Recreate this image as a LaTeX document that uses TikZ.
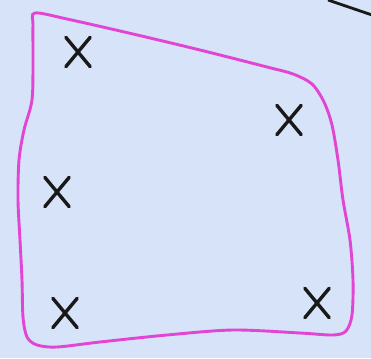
\documentclass[tikz,border=0pt]{standalone}
\usepackage{tikz}
\usetikzlibrary{shapes.misc}
\definecolor{PaperBlue}{RGB}{214,227,248}
\definecolor{PenMagenta}{RGB}{226,68,212}
\definecolor{PenBlack}{RGB}{25,25,25}

\begin{document}
\begin{tikzpicture}[x=1pt,y=-1pt,xmark/.style={cross out,draw=PenBlack,line width=3.4pt,line cap=round,minimum width=21pt,minimum height=26pt,inner sep=0pt}]
\fill[PaperBlue] (0,0) rectangle (371,358);
\useasboundingbox (0,0) rectangle (371,358);
% region boundary
\draw[PenMagenta,line width=2.9pt] plot[smooth cycle,tension=0.5] coordinates {(35,13) (67,19) (133,34) (200,50) (267,67) (293,74) (312,84) (324,102) (332,125) (338,160) (343,200) (350,240) (353,280) (352,315) (346,331) (333,335) (300,333) (233,330) (167,335) (100,342) (57,347) (37,345) (27,337) (23,317) (22,280) (20,240) (18,200) (19,160) (24,130) (32,100) (33,60) (33,25)};
% points
\node[xmark] (p1) at (78,52) {};
\node[xmark] (p2) at (289,120) {};
\node[xmark] (p3) at (57,192) {};
\node[xmark] (p4) at (65,313) {};
\node[xmark] (p5) at (317,303) {};
% line leaving the corner
\coordinate (l1) at (328,0);
\coordinate (l2) at (372,15);
\draw[PenBlack,line width=2.8pt] (l1) -- (l2);
\end{tikzpicture}
\end{document}
